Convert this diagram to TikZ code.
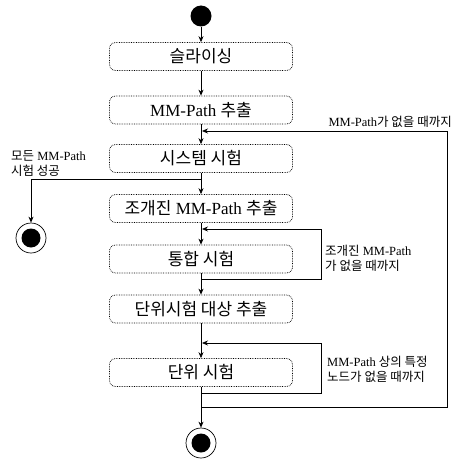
\documentclass[tikz,border=0pt]{standalone}
\usepackage{fontspec}
\setmainfont{Liberation Serif}
\newfontfamily\kr{Noto Sans CJK KR}
\usetikzlibrary{arrows.meta}
\begin{document}
\begin{tikzpicture}[x=1pt,y=-1pt,
  act/.style={draw, densely dotted, line width=0.7pt, rounded corners=6pt, minimum width=183pt, minimum height=28pt, inner sep=0pt, font=\fontsize{17}{20}\selectfont},
  flow/.style={draw, line width=0.7pt, -{Stealth[length=6pt,width=5pt]}},
  line/.style={draw, line width=0.7pt},
  lbl/.style={font=\fontsize{12.5}{15}\selectfont, inner sep=0pt, align=left}]
\useasboundingbox (0,0) rectangle (459,460);
\fill (201,16) circle (10.5);
\node[circle, minimum size=21pt, inner sep=0pt] (start) at (201,16) {};
\node[act] (b1) at (201,56.5) {{\kr 슬라이싱}};
\node[act] (b2) at (201,110) {MM-Path {\kr 추출}};
\node[act] (b3) at (201,158.5) {{\kr 시스템 시험}};
\node[act] (b4) at (201,208.5) {{\kr 조개진} MM-Path {\kr 추출}};
\node[act] (b5) at (201,259) {{\kr 통합 시험}};
\node[act] (b6) at (201,309) {{\kr 단위시험 대상 추출}};
\node[act] (b7) at (201,372.5) {{\kr 단위 시험}};
% end states
\node[circle, draw, line width=0.7pt, minimum size=30pt, inner sep=0pt] (e1) at (31,238) {};
\fill (e1.center) circle (9.5);
\node[circle, draw, line width=0.7pt, minimum size=30pt, inner sep=0pt] (e2) at (201,443) {};
\fill (e2.center) circle (9.5);
% main flow
\path[flow] (start) -- (b1);
\path[flow] (b1) -- (b2);
\path[flow] (b2) -- (b3);
\path[flow] (b3) -- (b4);
\path[flow] (b4) -- (b5);
\path[flow] (b5) -- (b6);
\path[flow] (b6) -- (b7);
\path[flow] (b7) -- (e2);
% branch to left end
\coordinate (br) at (201,179);
\coordinate (brl) at (31,179);
\path[line] (br) -- (brl);
\path[flow] (brl) -- (e1);
\node[lbl, anchor=south west] (l1) at (11,177) {{\kr 모든} MM-Path\\{\kr 시험 성공}};
% loop 1 (integration)
\coordinate (a1) at (201,279);
\coordinate (a2) at (321,279);
\coordinate (a3) at (321,229);
\coordinate (a4) at (202,229);
\path[line] (a1) -- (a2) -- (a3);
\path[flow] (a3) -- (a4);
\node[lbl, anchor=west] (l2) at (325,258) {{\kr 조개진} MM-Path\\{\kr 가 없을 때까지}};
% loop 2 (unit)
\coordinate (c1) at (201,393);
\coordinate (c2) at (321,393);
\coordinate (c3) at (321,343);
\coordinate (c4) at (202,343);
\path[line] (c1) -- (c2) -- (c3);
\path[flow] (c3) -- (c4);
\node[lbl, anchor=west] (l3) at (327,369) {MM-Path {\kr 상의 특정}\\{\kr 노드가 없을 때까지}};
% big loop
\coordinate (d1) at (201,407);
\coordinate (d2) at (447,407);
\coordinate (d3) at (447,131);
\coordinate (d4) at (202,131);
\path[line] (d1) -- (d2) -- (d3);
\path[flow] (d3) -- (d4);
\node[lbl, anchor=south east] (l4) at (452,128) {MM-Path{\kr 가 없을 때까지}};
\end{tikzpicture}
\end{document}
